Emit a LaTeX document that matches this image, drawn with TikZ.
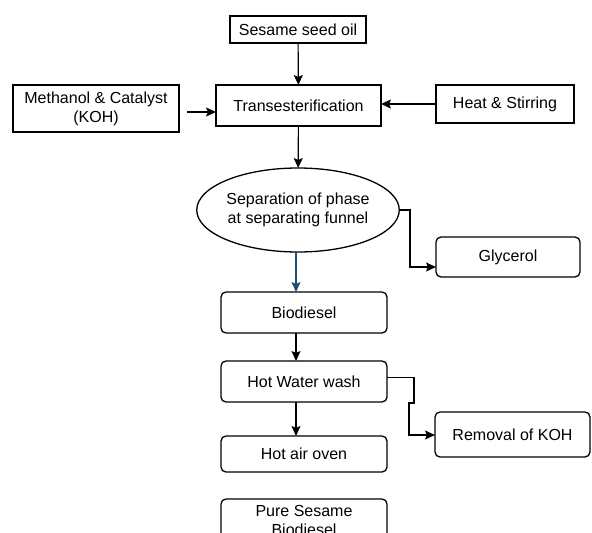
\documentclass[tikz,border=0pt]{standalone}
\usepackage{fontspec}
\setmainfont{Liberation Sans}
\usetikzlibrary{arrows.meta,shapes.geometric}
\definecolor{flowblue}{HTML}{1F4E79}
\newcommand{\boxline}{1.3pt}
\newcommand{\stepw}{166pt}
\tikzset{
  plainbox/.style={draw, line width=\boxline, inner sep=0pt, outer sep=0pt,
    align=center, font=\fontsize{16}{19}\selectfont},
  roundbox/.style={plainbox, rounded corners=5pt},
  phasebox/.style={plainbox, ellipse},
  link/.style={line width=1.2pt, -{Stealth[length=10pt,width=9pt,inset=2pt]}}
}

\begin{document}
\begin{tikzpicture}[x=1pt,y=-1pt]
\useasboundingbox (0,0) rectangle (592,533);
\clip (0,0) rectangle (592,533);
\node[plainbox, minimum width=136pt, minimum height=27pt] (oil) at (298,29.5) {Sesame seed oil};
\node[plainbox, minimum width=166pt, minimum height=47pt] (meth) at (96,108.5) {Methanol \& Catalyst\\(KOH)};
\node[plainbox, minimum width=165pt, minimum height=41pt] (trans) at (298.5,105.5) {Transesterification};
\node[plainbox, minimum width=138pt, minimum height=38pt] (heat) at (505,104) {Heat \& Stirring};
\node[phasebox, minimum width=167pt, minimum height=84pt] (phase) at (298,210) {Separation of phase\\at separating funnel};
\node[roundbox, minimum width=144pt, minimum height=40pt] (glyc) at (508,257) {Glycerol};
\node[roundbox, minimum width=\stepw, minimum height=41pt] (bio) at (304,312.5) {Biodiesel};
\node[roundbox, minimum width=\stepw, minimum height=41pt] (wash) at (304,381.5) {Hot Water wash};
\node[roundbox, minimum width=155pt, minimum height=45pt] (remv) at (512.5,434.5) {Removal of KOH};
\node[roundbox, minimum width=\stepw, minimum height=36pt] (oven) at (304,454) {Hot air oven};
\node[roundbox, minimum width=\stepw, minimum height=42pt] (pure) at (304,520) {Pure Sesame\\Biodiesel};
% free ends and bends
\coordinate (mstart) at (187,112);
\coordinate (down) at (296,0);
\coordinate (g1) at (410,267);
\coordinate (k1) at (414,403);
\coordinate (k2) at (409,435);
% connectors
\draw[link] (oil) -- (trans);
\draw[link] (mstart) -- (mstart -| trans.west);
\draw[link] (heat) -- (heat -| trans.east);
\draw[link] (trans) -- (phase);
\draw[link] (phase.east) -| (g1) -- (g1 -| glyc.west);
\draw[link, flowblue] (phase.south -| down) -- (bio.north -| down);
\draw[link] (bio.south -| down) -- (wash.north -| down);
\draw[link] ([yshift=4pt]wash.east) -| (k1) -- (k1 -| k2) -- (k2) -- (k2 -| remv.west);
\draw[link] (wash.south -| down) -- (oven.north -| down);
\end{tikzpicture}
\end{document}
